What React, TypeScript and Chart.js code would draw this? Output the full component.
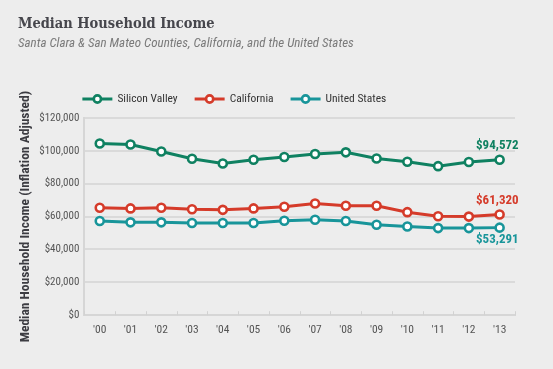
import React, { useEffect, useRef } from "react";
import { Chart, registerables } from "chart.js";

Chart.register(...registerables);

const years = ["'00", "'01", "'02", "'03", "'04", "'05", "'06", "'07", "'08", "'09", "'10", "'11", "'12", "'13"];
const siliconValley = [104500, 103900, 99600, 95200, 92300, 94600, 96300, 98100, 99100, 95400, 93400, 90700, 93200, 94572];
const california = [65400, 65000, 65400, 64500, 64100, 65000, 66000, 68000, 66600, 66600, 62700, 60200, 60000, 61320];
const unitedStates = [57300, 56500, 56500, 56100, 56100, 56100, 57500, 58100, 57300, 55000, 54000, 53000, 53000, 53291];
const seriesNames = ["Silicon Valley", "California", "United States"];
const seriesColors = ["#0f8161", "#d53b2a", "#18959a"];
const yMin = 0;
const yMax = 120000;
const yStep = 20000;

const NARROW = "'Liberation Sans Narrow', 'Roboto Condensed', 'Open Sans', sans-serif";

function drawLegendIcon(ctx: CanvasRenderingContext2D, x: number, y: number, color: string) {
  ctx.strokeStyle = color;
  ctx.lineWidth = 3;
  ctx.beginPath();
  ctx.moveTo(x, y);
  ctx.lineTo(x + 30, y);
  ctx.stroke();
  ctx.beginPath();
  ctx.arc(x + 15, y, 3.6, 0, Math.PI * 2);
  ctx.fillStyle = "#ffffff";
  ctx.fill();
  ctx.lineWidth = 2.6;
  ctx.stroke();
}

const customLegend = {
  id: "customLegend",
  afterDraw(chart: any) {
    const ctx = chart.ctx;
    const y = chart.chartArea.top - 19;
    let x = chart.chartArea.left - 2;
    ctx.save();
    ctx.font = `11.5px ${NARROW}`;
    ctx.textBaseline = "middle";
    ctx.textAlign = "left";
    chart.data.datasets.forEach((ds: any, i: number) => {
      drawLegendIcon(ctx, x, y, seriesColors[i]);
      x += 35;
      ctx.fillStyle = "#333333";
      ctx.fillText(ds.label, x, y);
      x += ctx.measureText(ds.label).width + 17;
    });
    ctx.restore();
  },
};

const endLabels = {
  id: "endLabels",
  afterDatasetsDraw(chart: any) {
    const ctx = chart.ctx;
    ctx.save();
    chart.data.datasets.forEach((ds: any, i: number) => {
      const meta = chart.getDatasetMeta(i);
      const n = meta.data.length - 1;
      const pt = meta.data[n];
      const val = ds.data[n] as number;
      ctx.font = `bold 13px ${NARROW}`;
      ctx.fillStyle = seriesColors[i];
      ctx.textAlign = "right";
      ctx.textBaseline = "middle";
      const dy = i === 2 ? 12 : -14;
      ctx.fillText("$" + val.toLocaleString("en-US"), pt.x + 19, pt.y + dy);
    });
    ctx.restore();
  },
};

const xTicksUp = {
  id: "xTicksUp",
  afterDraw(chart: any) {
    const xs = chart.scales.x;
    const ctx = chart.ctx;
    const bottom = chart.chartArea.bottom;
    ctx.save();
    ctx.strokeStyle = "#d2d2d2";
    ctx.lineWidth = 1;
    const n = years.length;
    const step = xs.getPixelForValue(1) - xs.getPixelForValue(0);
    for (let i = 0; i <= n; i++) {
      const x = Math.round(xs.getPixelForValue(0) - step / 2 + i * step) + 0.5;
      ctx.beginPath();
      ctx.moveTo(x, bottom);
      ctx.lineTo(x, bottom - 4);
      ctx.stroke();
    }
    ctx.restore();
  },
};

export default function App() {
  const ref = useRef<HTMLCanvasElement>(null);
  useEffect(() => {
    if (!ref.current) return;
    const series = [siliconValley, california, unitedStates];
    const chart = new Chart(ref.current, {
      type: "line",
      data: {
        labels: years,
        datasets: series.map((d, i) => ({
          label: seriesNames[i],
          data: d,
          borderColor: seriesColors[i],
          backgroundColor: "#ffffff",
          borderWidth: 3,
          pointRadius: 4,
          pointBorderWidth: 2.6,
          pointBackgroundColor: "#ffffff",
          pointBorderColor: seriesColors[i],
          tension: 0,
        })),
      },
      options: {
        animation: false,
        responsive: false,
        layout: { padding: { left: 18, right: 38, top: 16, bottom: 24 } },
        plugins: {
          title: {
            display: true,
            text: "Median Household Income",
            align: "start",
            color: "#46464c",
            font: { family: "'DejaVu Serif Condensed', 'DejaVu Serif', serif", size: 14.5, weight: "bold" },
            padding: { top: 0, bottom: 3 },
          },
          subtitle: {
            display: true,
            text: "Santa Clara & San Mateo Counties, California, and the United States",
            align: "start",
            color: "#7a7a7a",
            font: { family: NARROW, size: 13, style: "italic" },
            padding: { top: 0, bottom: 66 },
          },
          legend: { display: false },
          tooltip: { enabled: false },
        },
        scales: {
          x: {
            offset: true,
            grid: { display: true, drawOnChartArea: false, drawTicks: false, offset: true },
            border: { color: "#d6d6d6", width: 2 },
            ticks: {
              color: "#555555",
              font: { family: NARROW, size: 11.5 },
              padding: 8,
              maxRotation: 0,
            },
          },
          y: {
            min: yMin,
            max: yMax,
            grid: { color: "#dadada", lineWidth: 2, drawTicks: false },
            border: { color: "#d6d6d6", width: 2 },
            ticks: {
              stepSize: yStep,
              color: "#555555",
              font: { family: NARROW, size: 11 },
              padding: 5,
              callback: (v: any) => "$" + Number(v).toLocaleString("en-US"),
            },
            title: {
              display: true,
              text: "Median Household Income (Inflation Adjusted)",
              color: "#3c3c42",
              font: { family: NARROW, size: 13.5, weight: "bold" },
              padding: { top: 0, bottom: 0 },
            },
          },
        },
      },
      plugins: [endLabels, xTicksUp, customLegend],
    });
    return () => chart.destroy();
  }, []);
  return (
    <div style={{ position: "fixed", left: 0, top: 0, width: 553, height: 369, background: "#ededed" }}>
      <canvas ref={ref} width={553} height={369} style={{ width: 553, height: 369, display: "block" }} />
    </div>
  );
}
